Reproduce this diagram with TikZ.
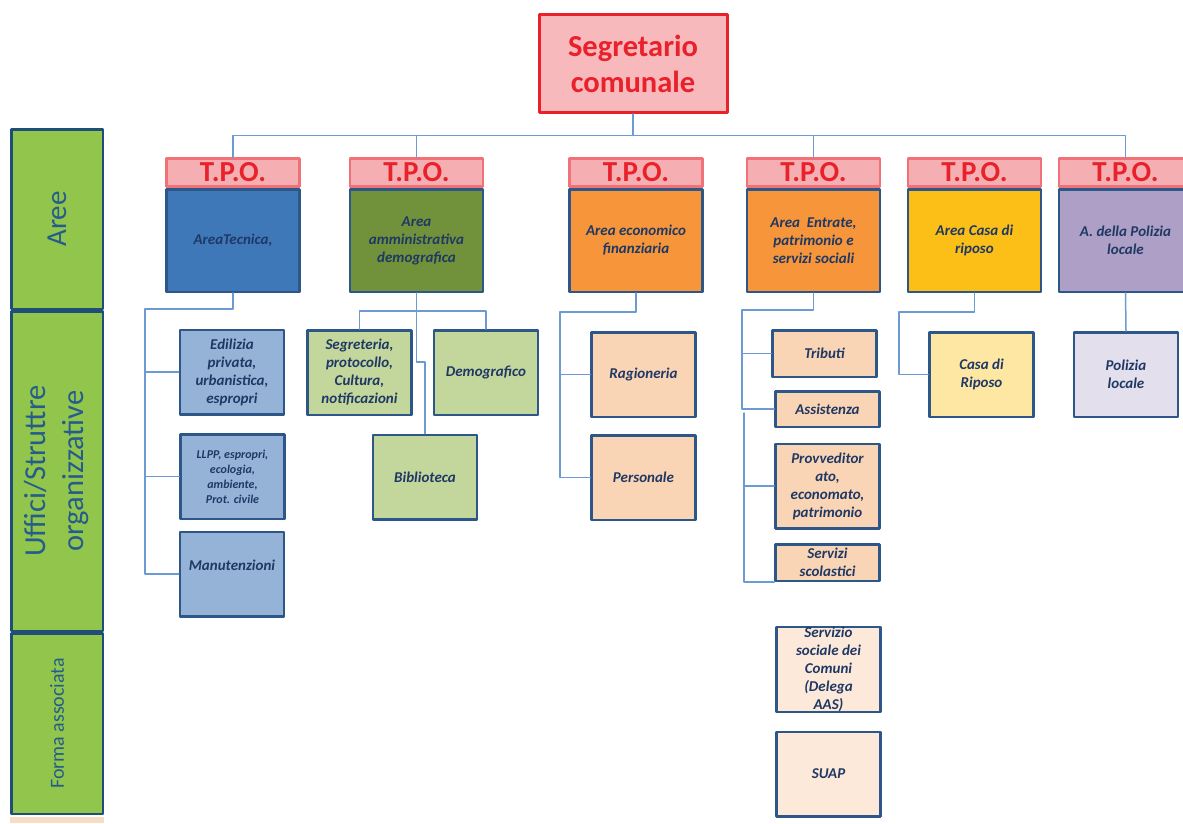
\documentclass[tikz,border=0pt]{standalone}
\usepackage{fontspec}
\setmainfont{Carlito}
\usetikzlibrary{arrows.meta,positioning}
\definecolor{segred}{HTML}{E8212B}
\definecolor{segfill}{HTML}{F8B9BD}
\definecolor{tpofill}{HTML}{F5AFB2}
\definecolor{tpoline}{HTML}{F07177}
\definecolor{boxline}{HTML}{2D5689}
\definecolor{boxtext}{HTML}{1F3864}
\definecolor{busblue}{HTML}{6B9BD2}
\definecolor{colgreen}{HTML}{92C54B}
\definecolor{colline}{HTML}{1F4E79}
\definecolor{coltext}{HTML}{245C8C}
\definecolor{stripfill}{HTML}{F5DEC5}

\begin{document}
\begin{tikzpicture}[x=1pt, y=-1pt, line cap=round, line join=round,
  box/.style={rectangle, draw=boxline, line width=2.5pt, align=center, inner sep=2pt,
    text=boxtext, font=\fontsize{15}{18}\selectfont\bfseries\itshape},
  areabox/.style={box, minimum width=133pt, minimum height=102.5pt},
  ufficio/.style={box, minimum width=104pt, minimum height=84.5pt},
  tpo/.style={rectangle, draw=tpoline, fill=tpofill, line width=2.5pt, inner sep=0pt,
    minimum width=133pt, minimum height=28pt, text=segred,
    font=\fontsize{29}{30}\selectfont\bfseries},
  segbox/.style={rectangle, draw=segred, fill=segfill, line width=3pt, align=center,
    minimum width=188pt, minimum height=98pt, text=segred,
    font=\fontsize{30.5}{36}\selectfont\bfseries},
  colbox/.style={rectangle, draw=colline, fill=colgreen, line width=2.5pt, rotate=90,
    align=center, minimum height=91.5pt, text=coltext},
  bus/.style={draw=busblue, line width=1.5pt}
]

\useasboundingbox (0,0) rectangle (1183,823);

% --- Parameters (px) ---
\def\yTpo{172.5}   % T.P.O. header
\def\yArea{240.5}  % area box

% --- Colors of the areas ---
\definecolor{tecnica}{HTML}{3F78B9}
\definecolor{amministr}{HTML}{71913A}
\definecolor{economico}{HTML}{F6953A}
\definecolor{riposo}{HTML}{FBBF17}
\definecolor{polizia}{HTML}{AD9FC5}
\definecolor{lblue}{HTML}{95B3D7}
\definecolor{lgreen}{HTML}{C3D69B}
\definecolor{lpeach}{HTML}{FAD5B5}
\definecolor{vpeach}{HTML}{FDE9D9}
\definecolor{lyellow}{HTML}{FDE7A2}
\definecolor{llilac}{HTML}{E4DFEC}

% --- Left column ---
\node[colbox, minimum width=179.5pt, font=\fontsize{29}{36}\selectfont] (colAree) at (57,219) {Aree};
\node[colbox, minimum width=319.5pt, font=\fontsize{30.5}{38}\selectfont] (colUffici) at (57,471) {Uffici/Struttre\\organizzative};
\node[colbox, minimum width=180.5pt, font=\fontsize{20}{24}\selectfont] (colForma) at (57,723.5) {Forma associata};
\fill[stripfill] (10,817) rectangle (104,823);

% --- Segretario ---
\node[segbox] (seg) at (633,63.5) {Segretario\\comunale};

% --- Areas ---
\node[areabox, fill=tecnica] (areaA) at (233,\yArea) {AreaTecnica,};
\node[areabox, fill=amministr] (areaB) at (416.5,\yArea) {Area\\amministrativa\\demografica};
\node[areabox, fill=economico] (areaC) at (636,\yArea) {Area economico\\finanziaria};
\node[areabox, fill=economico] (areaD) at (813.5,\yArea) {Area~ Entrate,\\patrimonio e\\servizi sociali};
\node[areabox, fill=riposo] (areaE) at (974.5,\yArea) {Area Casa di\\riposo};
\node[areabox, fill=polizia] (areaF) at (1125.5,\yArea) {A. della Polizia\\locale};

% --- T.P.O. headers ---
\node[tpo] (tpoA) at (233,\yTpo) {T.P.O.};
\node[tpo] (tpoB) at (416.5,\yTpo) {T.P.O.};
\node[tpo] (tpoC) at (636,\yTpo) {T.P.O.};
\node[tpo] (tpoD) at (813.5,\yTpo) {T.P.O.};
\node[tpo] (tpoE) at (974.5,\yTpo) {T.P.O.};
\node[tpo] (tpoF) at (1125.5,\yTpo) {T.P.O.};

% --- Uffici ---
\node[ufficio, fill=lblue] (edil) at (232,372) {Edilizia\\privata,\\urbanistica,\\espropri};
\node[ufficio, fill=lblue, font=\fontsize{12}{15}\selectfont\bfseries\itshape] (llpp) at (232.5,476.5) {LLPP, espropri,\\ecologia,\\ambiente,\\Prot. civile};
\node[ufficio, fill=lblue] (manut) at (232,574) {\raisebox{18pt}{Manutenzioni}};

\node[ufficio, fill=lgreen] (segr) at (359.5,372.5) {Segreteria,\\protocollo,\\Cultura,\\notificazioni};
\node[ufficio, fill=lgreen] (demo) at (486,372.5) {Demografico};
\node[ufficio, fill=lgreen] (bibl) at (425,477) {Biblioteca};

\node[ufficio, fill=lpeach] (ragi) at (643.5,374.5) {Ragioneria};
\node[ufficio, fill=lpeach] (pers) at (643.5,477.5) {Personale};

\node[ufficio, fill=lpeach, minimum height=46.5pt] (trib) at (824.5,353.5) {Tributi};
\node[ufficio, fill=lpeach, minimum height=35.5pt] (assi) at (827.5,409) {Assistenza};
\node[ufficio, fill=lpeach] (provv) at (827.5,486) {Provveditor\\ato,\\economato,\\patrimonio};
\node[ufficio, fill=lpeach, minimum height=36.5pt, inner sep=0pt] (scol) at (827.5,562.5) {Servizi\\scolastici};
\node[ufficio, fill=vpeach, inner sep=0pt] (sociale) at (828.5,669.5) {Servizio\\sociale dei\\Comuni\\(Delega\\AAS)};
\node[ufficio, fill=vpeach] (suap) at (828.5,774) {SUAP};

\node[ufficio, fill=lyellow] (casa) at (981.5,374.5) {Casa di\\Riposo};
\node[ufficio, fill=llilac] (poli) at (1126,374.5) {Polizia\\locale};

% --- Bus from the Segretario ---
\coordinate (bus) at (633,135.5);
\draw[bus] (seg.south) -- (bus);
\draw[bus] (tpoA.north) |- (bus) -| (tpoF.north);
\draw[bus] (tpoB.north) -- (tpoB.north |- bus);
\draw[bus] (tpoD.north) -- (tpoD.north |- bus);

% --- Area tecnica ---
\coordinate (trunkA) at (145,309);
\draw[bus] (areaA.south) |- (trunkA) |- (manut.west);
\draw[bus] (edil.west) -- (edil.west -| trunkA);
\draw[bus] (llpp.west) -- (llpp.west -| trunkA);

% --- Area amministrativa ---
\coordinate (forkB) at (416.5,311);
\coordinate (jogB) at (416.5,362);
\draw[bus] (segr.north) |- (forkB) -| (demo.north);
\draw[bus] (areaB.south) -- (forkB) -- (jogB) -| (bibl.north);

% --- Area economico finanziaria ---
\coordinate (trunkC) at (560,312);
\draw[bus] (areaC.south) |- (trunkC) |- (pers.west);
\draw[bus] (ragi.west) -- (ragi.west -| trunkC);

% --- Area entrate ---
\coordinate (trunkD) at (742,310);
\coordinate (trunkDlow) at (744,413);
\draw[bus] (areaD.south) |- (trunkD) |- (assi.west);
\draw[bus] (trib.west) -- (trib.west -| trunkD);
\draw[bus] (trunkDlow) |- (scol.south west);
\draw[bus] (provv.west) -- (provv.west -| trunkDlow);

% --- Casa di riposo and Polizia ---
\coordinate (trunkE) at (899,312);
\draw[bus] (areaE.south) |- (trunkE) |- (casa.west);
\draw[bus] (areaF.south) -- (poli.north);

\end{tikzpicture}
\end{document}
